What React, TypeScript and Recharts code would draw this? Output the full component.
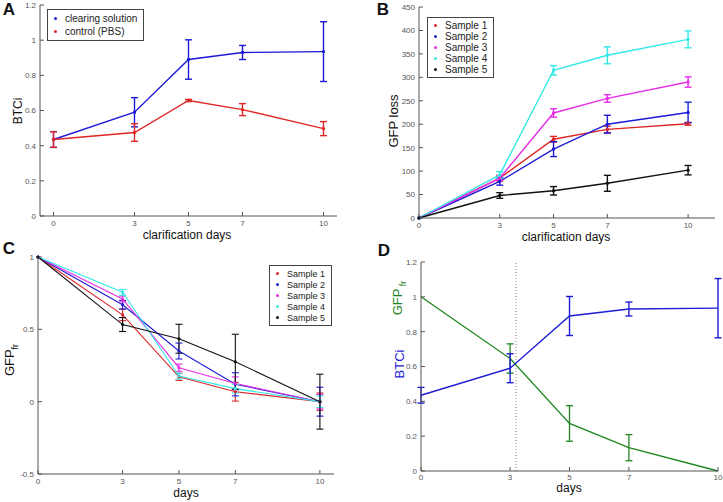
import React from 'react';
import { LineChart, Line, XAxis, YAxis, ErrorBar, ReferenceLine, Legend } from 'recharts';

const days = [0, 3, 5, 7, 10];
const dayTicks = [0, 3, 5, 7, 10];

// A: BTCi, clearing solution vs control
const btciClearing = [0.435, 0.59, 0.89, 0.93, 0.935];
const btciClearingErr = [0.045, 0.083, 0.112, 0.04, 0.17];
const btciControl = [0.435, 0.475, 0.657, 0.605, 0.497];
const btciControlErr = [0.044, 0.05, 0.006, 0.034, 0.04];

// B: GFP loss per sample
const lossS1 = [0, 85, 168, 189, 201];
const lossS1Err = [0, 6, 6, 7, 3];
const lossS2 = [0, 78, 147, 200, 225];
const lossS2Err = [0, 8, 16, 19, 22];
const lossS3 = [0, 85, 224, 255, 290];
const lossS3Err = [0, 5, 9, 8, 11];
const lossS4 = [0, 92, 315, 347, 381];
const lossS4Err = [0, 7, 10, 18, 18];
const lossS5 = [0, 48, 58, 74, 102];
const lossS5Err = [0, 6, 9, 17, 10];

// C: GFP fr per sample
const frS1 = [1, 0.6, 0.172, 0.069, 0];
const frS1Err = [0, 0.04, 0.025, 0.065, 0.06];
const frS2 = [1, 0.67, 0.35, 0.12, 0];
const frS2Err = [0, 0.03, 0.055, 0.08, 0.1];
const frS3 = [1, 0.71, 0.235, 0.126, 0];
const frS3Err = [0, 0.02, 0.025, 0.045, 0.05];
const frS4 = [1, 0.756, 0.177, 0.09, 0];
const frS4Err = [0, 0.02, 0.02, 0.03, 0.04];
const frS5 = [1, 0.533, 0.435, 0.276, 0];
const frS5Err = [0, 0.048, 0.1, 0.19, 0.19];

// D: GFP fr mean vs BTCi
const gfpFrMean = [1, 0.646, 0.273, 0.134, 0];
const gfpFrMeanErr = [0, 0.084, 0.102, 0.075, 0];
const crossoverDay = 3.2;

const sampleNames = ['Sample 1', 'Sample 2', 'Sample 3', 'Sample 4', 'Sample 5'];

const BLUE = '#1c1cd6';
const RED = '#e02626';
const MAGENTA = '#e62ee6';
const CYAN = '#33e8e8';
const BLACK = '#111111';
const GREEN = '#1f861f';
const sampleColors = [RED, BLUE, MAGENTA, CYAN, BLACK];

const FONT = '"Liberation Sans", Arial, Helvetica, sans-serif';
const AXIS = '#555';
const tickStyle = { fontSize: 8, fill: '#555', fontFamily: FONT };

const rowsA = days.map((d, i) => ({
  day: d,
  clearing: btciClearing[i],
  clearingErr: btciClearingErr[i],
  control: btciControl[i],
  controlErr: btciControlErr[i],
}));

const lossSeries = [lossS1, lossS2, lossS3, lossS4, lossS5];
const lossErrs = [lossS1Err, lossS2Err, lossS3Err, lossS4Err, lossS5Err];
const rowsB = days.map((d, i) => {
  const row: Record<string, number> = { day: d };
  lossSeries.forEach((s, k) => {
    row[`s${k}`] = s[i];
    row[`e${k}`] = lossErrs[k][i];
  });
  return row;
});

const frSeries = [frS1, frS2, frS3, frS4, frS5];
const frErrs = [frS1Err, frS2Err, frS3Err, frS4Err, frS5Err];
const rowsC = days.map((d, i) => {
  const row: Record<string, number> = { day: d };
  frSeries.forEach((s, k) => {
    row[`s${k}`] = s[i];
    row[`e${k}`] = frErrs[k][i];
  });
  return row;
});

const rowsD = days.map((d, i) => ({
  day: d,
  btci: btciClearing[i],
  btciErr: btciClearingErr[i],
  gfp: gfpFrMean[i],
  gfpErr: gfpFrMeanErr[i],
}));

function LegendBox({ payload, fontSize, rowH }: any) {
  return (
    <div
      style={{
        border: '1px solid #444',
        background: '#fff',
        padding: '2px 6px 2px 6px',
        fontFamily: FONT,
        fontSize,
        color: '#222',
      }}
    >
      {(payload || []).map((p: any) => (
        <div key={p.value} style={{ display: 'flex', alignItems: 'center', height: rowH }}>
          <span
            style={{
              display: 'inline-block',
              width: 3,
              height: 3,
              borderRadius: 2,
              background: p.color,
              marginRight: 8,
            }}
          />
          {p.value}
        </div>
      ))}
    </div>
  );
}

function boxAxes(xDomain: number[], yDomain: number[], yTicks: number[]) {
  return [
    <XAxis
      key="top"
      xAxisId="top"
      orientation="top"
      type="number"
      domain={xDomain}
      ticks={dayTicks}
      tickFormatter={() => ''}
      height={0}
      tickSize={-4}
      stroke={AXIS}
    />,
    <YAxis
      key="right"
      yAxisId="right"
      orientation="right"
      type="number"
      domain={yDomain}
      ticks={yTicks}
      tickFormatter={() => ''}
      width={0}
      tickSize={-4}
      stroke={AXIS}
    />,
  ];
}

function Rot({ x, y, color, size = 12, children }: any) {
  return (
    <div
      style={{
        position: 'absolute',
        left: x,
        top: y,
        transform: 'translate(-50%, -50%) rotate(-90deg)',
        whiteSpace: 'nowrap',
        fontFamily: FONT,
        fontSize: size,
        color: color || '#111',
      }}
    >
      {children}
    </div>
  );
}

function Text({ x, y, size = 12, bold = false, children }: any) {
  return (
    <div
      style={{
        position: 'absolute',
        left: x,
        top: y,
        transform: 'translate(-50%, -50%)',
        whiteSpace: 'nowrap',
        fontFamily: FONT,
        fontSize: size,
        fontWeight: bold ? 'bold' : 'normal',
        color: '#111',
      }}
    >
      {children}
    </div>
  );
}

const yTicksA = [0, 0.2, 0.4, 0.6, 0.8, 1, 1.2];
const yTicksB = [0, 50, 100, 150, 200, 250, 300, 350, 400, 450];
const yTicksC = [-0.5, 0, 0.5, 1];

export default function App() {
  return (
    <div style={{ position: 'absolute', left: 0, top: 0, width: 723, height: 502, background: '#fff', overflow: 'hidden' }}>
      {/* Panel A */}
      <div style={{ position: 'absolute', left: 0, top: 0 }}>
        <LineChart width={360} height={250} data={rowsA} margin={{ top: 5, right: 23, bottom: 0, left: 0 }}>
          <XAxis dataKey="day" type="number" domain={[-0.5, 10.5]} ticks={dayTicks} tick={tickStyle}
            height={34} tickSize={-4} tickMargin={8} stroke={AXIS} />
          <YAxis type="number" domain={[0, 1.2]} ticks={yTicksA} tick={tickStyle} width={40}
            tickSize={-4} tickMargin={8} stroke={AXIS} />
          {boxAxes([-0.5, 10.5], [0, 1.2], yTicksA)}
          <Legend layout="vertical" align="center" verticalAlign="middle"
            wrapperStyle={{ left: 47, top: 9, width: 'auto', height: 'auto' }}
            content={(p: any) => <LegendBox payload={p.payload} fontSize={10} rowH={13} />} />
          <Line dataKey="clearing" name="clearing solution" stroke={BLUE} strokeWidth={1.4}
            dot={{ r: 1, fill: BLUE, stroke: BLUE }} isAnimationActive={false}>
            <ErrorBar dataKey="clearingErr" width={3.5} stroke={BLUE} strokeWidth={1.4} />
          </Line>
          <Line dataKey="control" name="control (PBS)" stroke={RED} strokeWidth={1.4}
            dot={{ r: 1, fill: RED, stroke: RED }} isAnimationActive={false}>
            <ErrorBar dataKey="controlErr" width={3.5} stroke={RED} strokeWidth={1.4} />
          </Line>
        </LineChart>
      </div>

      {/* Panel B */}
      <div style={{ position: 'absolute', left: 360, top: 0 }}>
        <LineChart width={363} height={250} data={rowsB} margin={{ top: 7, right: 8, bottom: 0, left: 0 }}>
          <XAxis dataKey="day" type="number" domain={[0, 11]} ticks={dayTicks} tick={tickStyle}
            height={32} tickSize={-4} tickMargin={8} stroke={AXIS} />
          <YAxis type="number" domain={[0, 450]} ticks={yTicksB} tick={tickStyle} width={59}
            tickSize={-4} tickMargin={8} stroke={AXIS} />
          {boxAxes([0, 11], [0, 450], yTicksB)}
          <Legend layout="vertical" align="center" verticalAlign="middle"
            wrapperStyle={{ left: 67, top: 17, width: 'auto', height: 'auto' }}
            content={(p: any) => <LegendBox payload={p.payload} fontSize={10} rowH={11} />} />
          {sampleNames.map((name, k) => (
            <Line key={name} dataKey={`s${k}`} name={name} stroke={sampleColors[k]} strokeWidth={1.4}
              dot={{ r: 1, fill: sampleColors[k], stroke: sampleColors[k] }} isAnimationActive={false}>
              <ErrorBar dataKey={`e${k}`} width={3.5} stroke={sampleColors[k]} strokeWidth={1.4} />
            </Line>
          ))}
        </LineChart>
      </div>

      {/* Panel C */}
      <div style={{ position: 'absolute', left: 0, top: 250 }}>
        <LineChart width={360} height={252} data={rowsC} margin={{ top: 7, right: 26, bottom: 0, left: 0 }}>
          <XAxis dataKey="day" type="number" domain={[0, 10.5]} ticks={dayTicks} tick={tickStyle}
            height={28} tickSize={-4} tickMargin={8} stroke={AXIS} />
          <YAxis type="number" domain={[-0.5, 1]} ticks={yTicksC} tick={tickStyle} width={38}
            tickSize={-4} tickMargin={8} stroke={AXIS} />
          {boxAxes([0, 10.5], [-0.5, 1], yTicksC)}
          <Legend layout="vertical" align="center" verticalAlign="middle"
            wrapperStyle={{ left: 269, top: 15, width: 'auto', height: 'auto' }}
            content={(p: any) => <LegendBox payload={p.payload} fontSize={9} rowH={11} />} />
          {sampleNames.map((name, k) => (
            <Line key={name} dataKey={`s${k}`} name={name} stroke={sampleColors[k]} strokeWidth={1.1}
              dot={{ r: 1, fill: sampleColors[k], stroke: sampleColors[k] }} isAnimationActive={false}>
              <ErrorBar dataKey={`e${k}`} width={3.5} stroke={sampleColors[k]} strokeWidth={1.1} />
            </Line>
          ))}
        </LineChart>
      </div>

      {/* Panel D */}
      <div style={{ position: 'absolute', left: 360, top: 250 }}>
        <LineChart width={363} height={252} data={rowsD} margin={{ top: 12, right: 5, bottom: 0, left: 0 }}>
          <XAxis dataKey="day" type="number" domain={[0, 10]} ticks={dayTicks} tick={tickStyle}
            height={31} tickSize={-4} tickMargin={7} stroke={AXIS} />
          <YAxis type="number" domain={[0, 1.2]} ticks={yTicksA} tick={tickStyle} width={61}
            tickSize={-4} tickMargin={8} stroke={AXIS} />
          {boxAxes([0, 10], [0, 1.2], yTicksA)}
          <ReferenceLine x={crossoverDay} stroke="#666" strokeDasharray="1 2" strokeWidth={0.8} />
          <Line dataKey="gfp" name="GFP fr" stroke={GREEN} strokeWidth={1.3} dot={false} isAnimationActive={false}>
            <ErrorBar dataKey="gfpErr" width={3.5} stroke={GREEN} strokeWidth={1.3} />
          </Line>
          <Line dataKey="btci" name="BTCi" stroke={BLUE} strokeWidth={1.4} dot={false} isAnimationActive={false}>
            <ErrorBar dataKey="btciErr" width={3.5} stroke={BLUE} strokeWidth={1.4} />
          </Line>
        </LineChart>
      </div>

      {/* panel letters and axis titles */}
      <Text x={9} y={10} size={17} bold>A</Text>
      <Text x={383} y={10} size={17} bold>B</Text>
      <Text x={9} y={249} size={17} bold>C</Text>
      <Text x={384} y={251} size={17} bold>D</Text>

      <Text x={187} y={235}>clarification days</Text>
      <Rot x={18} y={111}>BTCi</Rot>

      <Text x={566} y={237}>clarification days</Text>
      <Rot x={393} y={121} size={13}>GFP loss</Rot>

      <Text x={186} y={493}>days</Text>
      <Rot x={11} y={360} size={13}>
        GFP<sub style={{ fontSize: 9 }}>fr</sub>
      </Rot>

      <Text x={569} y={488}>days</Text>
      <Rot x={399} y={364} color={BLUE} size={13}>BTCi</Rot>
      <Rot x={399} y={298} color={GREEN} size={13}>
        GFP<sub style={{ fontSize: 9 }}> fr</sub>
      </Rot>
    </div>
  );
}
